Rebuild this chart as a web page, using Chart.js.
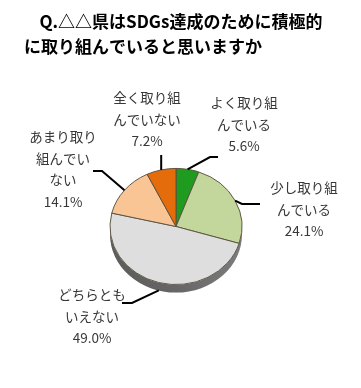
<!DOCTYPE html>
<html>
<head>
<meta charset="utf-8">
<script src="https://cdn.jsdelivr.net/npm/chart.js@4/dist/chart.umd.min.js"></script>
<style>
html, body { margin: 0; padding: 0; background: #ffffff; }
#pieChart { display: block; }
</style>
</head>
<body>
<canvas id="pieChart" width="361" height="388"></canvas>
<script>
"use strict";

var titleLines = ["    Q.△△県はSDGs達成のために積極的", "に取り組んでいると思いますか"];

var categories = ["よく取り組んでいる", "少し取り組んでいる", "どちらともいえない", "あまり取り組んでいない", "全く取り組んでいない"];
var percentages = [5.6, 24.1, 49.0, 14.1, 7.2];

// how each category name is wrapped next to the pie
var labelLines = [
	["よく取り組", "んでいる"],
	["少し取り組", "んでいる"],
	["どちらとも", "いえない"],
	["あまり取り", "組んでい", "ない"],
	["全く取り組", "んでいない"]
];

var sliceColors = ["#1f9c1f", "#c3d69b", "#dedede", "#fac594", "#e46c0a"];

// label text / leader line placement, offsets from the pie centre
var labelLayout = [
	{ text: [68, -123.5], elbow: [34, -69.5], end: [42, -69.5] },
	{ text: [128, -38.5], elbow: [66, -22.5], end: [84, -22.5] },
	{ text: [-84, 68.5], elbow: [-44, 76.5], end: [-54, 76.5] },
	{ text: [-113, -89.5], elbow: [-74, -55.5], end: [-83, -55.5] },
	{ text: [-29, -128.5], elbow: [-14.8, -71.5], end: [-14.8, -71.5] }
];

var squash = 0.88;
var depth = 8;

var pseudo3d = {
	id: "pseudo3d",
	beforeDatasetsDraw: function (chart) {
		var ctx = chart.ctx;
		var arc = chart.getDatasetMeta(0).data[0];
		var cx = arc.x;
		var cy = arc.y;
		var r = arc.outerRadius;
		var ry = r * squash;

		ctx.save();

		// side of the disc
		var grad = ctx.createLinearGradient(cx - r, 0, cx + r, 0);
		grad.addColorStop(0, "#5c5c5c");
		grad.addColorStop(0.5, "#666666");
		grad.addColorStop(1, "#7c7c7c");
		ctx.fillStyle = grad;
		ctx.beginPath();
		ctx.ellipse(cx, cy + depth, r, ry, 0, 0, Math.PI);
		ctx.lineTo(cx - r, cy);
		ctx.ellipse(cx, cy, r, ry, 0, Math.PI, 0, true);
		ctx.closePath();
		ctx.fill();

		ctx.translate(cx, cy);
		ctx.scale(1, squash);
		ctx.translate(-cx, -cy);
	},
	afterDatasetsDraw: function (chart) {
		var ctx = chart.ctx;
		ctx.restore();

		var arcs = chart.getDatasetMeta(0).data;

		ctx.save();
		ctx.strokeStyle = "#000000";
		ctx.lineWidth = 2;
		ctx.font = '13.5px "Noto Sans CJK JP"';
		ctx.fillStyle = "#383838";
		ctx.textAlign = "center";
		ctx.textBaseline = "middle";

		arcs.forEach((arc, i) => {
			var mid = (arc.startAngle + arc.endAngle) / 2;
			var r = arc.outerRadius;
			var ex = arc.x + r * Math.cos(mid);
			var ey = arc.y + r * squash * Math.sin(mid);
			if (Math.sin(mid) > 0) {
				ey += depth * Math.sin(mid);
			}

			var lay = labelLayout[i];
			ctx.beginPath();
			ctx.moveTo(ex, ey);
			ctx.lineTo(arc.x + lay.elbow[0], arc.y + lay.elbow[1]);
			ctx.lineTo(arc.x + lay.end[0], arc.y + lay.end[1]);
			ctx.stroke();

			var lines = labelLines[i].concat([percentages[i].toFixed(1) + "%"]);
			var lineHeight = 21.5;
			lines.forEach((t, k) => {
				ctx.fillText(t, arc.x + lay.text[0], arc.y + lay.text[1] + k * lineHeight);
			});
		});

		ctx.restore();
	}
};

var ctx = document.getElementById("pieChart").getContext("2d");

var pieChart = new Chart(ctx, {
	type: "pie",
	data: {
		labels: categories,
		datasets: [{
			data: percentages,
			backgroundColor: sliceColors,
			borderColor: "#5a5040",
			borderWidth: 1
		}]
	},
	options: {
		responsive: false,
		animation: false,
		events: [],
		layout: {
			padding: { left: 24, right: 33, top: 0, bottom: 95 }
		},
		plugins: {
			legend: { display: false },
			tooltip: { enabled: false },
			title: {
				display: true,
				text: titleLines,
				align: "start",
				color: "#000000",
				font: {
					family: '"Noto Sans CJK JP"',
					size: 17,
					weight: "bold",
					lineHeight: 25 / 17
				},
				padding: { top: 9.5, bottom: 100.5 }
			}
		}
	},
	plugins: [pseudo3d]
});
</script>
</body>
</html>
